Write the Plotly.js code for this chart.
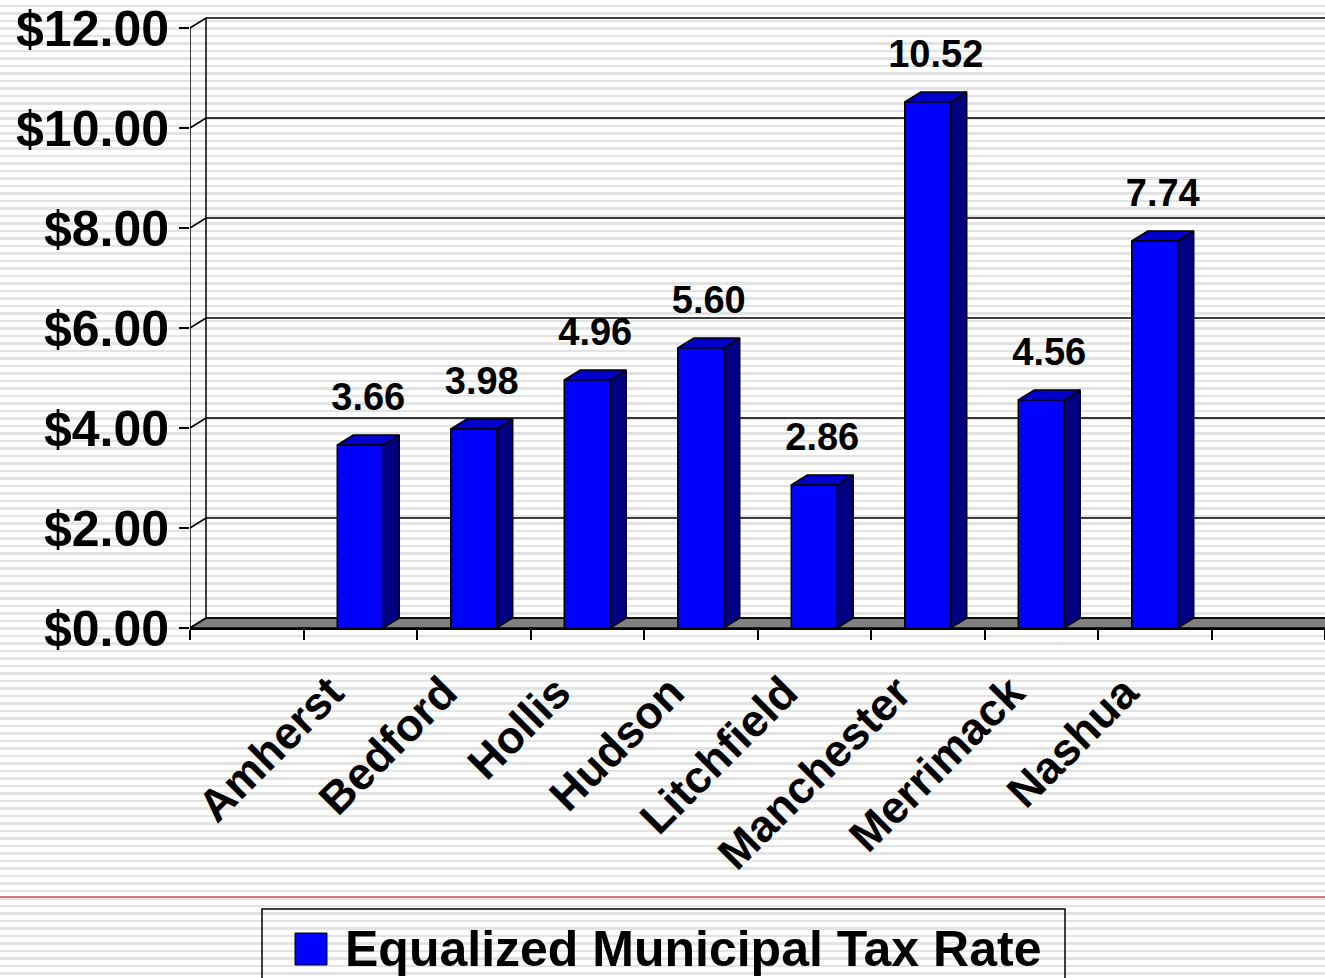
<!DOCTYPE html>
<html><head><meta charset="utf-8">
<script src="https://cdn.plot.ly/plotly-3.0.1.min.js"></script>
<style>
html,body{margin:0;padding:0;}
body{width:1325px;height:978px;overflow:hidden;background:repeating-linear-gradient(to bottom,#ffffff 0px,#ffffff 5px,#e3e3e3 5px,#e3e3e3 7.5px);}
#chart{width:1325px;height:978px;}
</style></head><body><div id="chart"></div>
<script>
const categories = ["Amherst","Bedford","Hollis","Hudson","Litchfield","Manchester","Merrimack","Nashua"];
const taxRates = [3.66, 3.98, 4.96, 5.60, 2.86, 10.52, 4.56, 7.74];
const valueLabels = ["3.66","3.98","4.96","5.60","2.86","10.52","4.56","7.74"];
const yTickValues = [0, 2, 4, 6, 8, 10, 12];
const yTickLabels = ["$0.00","$2.00","$4.00","$6.00","$8.00","$10.00","$12.00"];
const seriesName = "Equalized Municipal Tax Rate";

const FONT = "Liberation Sans, Arial, Helvetica, sans-serif";
const W = 1325, H = 978, ML = 190, MT = 10, MB = 350;
const plotW = W - ML, plotH = H - MT - MB;
const xRange = [-1.5, categories.length + 0.5];
const yMaxTick = yTickValues[yTickValues.length - 1];
const yRange = [0, 12.36];
const pxPerX = plotW / (xRange[1] - xRange[0]);
const pxPerY = plotH / (yRange[1] - yRange[0]);
const dx = 16 / pxPerX, dy = 10 / pxPerY;
const barW = 0.405;
const xFar = xRange[1] + 0.3;
const labelGap = 16 / pxPerY;

const floorTrace = {x:[xRange[0], xFar, xFar, xRange[0]+dx, xRange[0]], y:[0,0,dy,dy,0],
  type:'scatter', mode:'lines', fill:'toself', fillcolor:'#808080',
  line:{color:'#000', width:1.5}, hoverinfo:'skip', showlegend:false, xaxis:'x', yaxis:'y'};

const gx = [], gy = [];
yTickValues.forEach(t => {
  gx.push(xRange[0], xRange[0]+dx, xFar, null);
  gy.push(t, t+dy, t+dy, null);
});
gx.push(xRange[0], xRange[0], null, xRange[0]+dx, xRange[0]+dx, null);
gy.push(0, yMaxTick, null, dy, yMaxTick+dy, null);
const gridTrace = {x:gx, y:gy, type:'scatter', mode:'lines', line:{color:'#000', width:1.5},
  hoverinfo:'skip', showlegend:false, xaxis:'x', yaxis:'y'};

const sx = [], sy = [], tx = [], ty = [];
taxRates.forEach((v, i) => {
  const l = i - barW/2, r = i + barW/2;
  sx.push(r, r+dx, r+dx, r, r, null);
  sy.push(0, dy, v+dy, v, 0, null);
  tx.push(l, l+dx, r+dx, r, l, null);
  ty.push(v, v+dy, v+dy, v, v, null);
});
const sideTrace = {x:sx, y:sy, type:'scatter', mode:'lines', fill:'toself', fillcolor:'#000080',
  line:{color:'#000', width:1.5}, hoverinfo:'skip', showlegend:false, xaxis:'x', yaxis:'y'};
const topTrace = {x:tx, y:ty, type:'scatter', mode:'lines', fill:'toself', fillcolor:'#0000CD',
  line:{color:'#000', width:1.5}, hoverinfo:'skip', showlegend:false, xaxis:'x', yaxis:'y'};

const labelTrace = {x:taxRates.map((v,i)=>i+dx/2), y:taxRates.map(v=>v+dy+labelGap),
  text:valueLabels, type:'scatter', mode:'text', textposition:'top center',
  textfont:{family:FONT, size:38, color:'#000', weight:'bold'},
  hoverinfo:'skip', showlegend:false, cliponaxis:false, xaxis:'x', yaxis:'y'};

const barTrace = {x:categories, y:taxRates, type:'bar', name:seriesName, width:barW,
  marker:{color:'#0000FF', line:{color:'#000', width:1.5}}, showlegend:false,
  xaxis:'x2', yaxis:'y', hoverinfo:'skip'};

const boundaries = [];
for (let b = xRange[0]; b <= xRange[1] + 1e-9; b += 1) boundaries.push(b);

function px2x(px){ return (px - ML) / plotW; }
function py2y(py){ return (MT + plotH - py) / plotH; }

const layout = {
  width:W, height:H,
  margin:{l:ML, r:0, t:MT, b:MB, pad:0},
  paper_bgcolor:'rgba(0,0,0,0)', plot_bgcolor:'rgba(0,0,0,0)',
  font:{family:FONT, color:'#000'},
  showlegend:false,
  xaxis:{type:'linear', range:xRange, tickmode:'array', tickvals:boundaries,
    showticklabels:false, ticks:'outside', ticklen:10, tickwidth:2, tickcolor:'#000',
    showline:true, linecolor:'#000', linewidth:2, showgrid:false, zeroline:false, fixedrange:true},
  xaxis2:{type:'category', overlaying:'x', anchor:'y', side:'bottom', range:xRange,
    categoryorder:'array', categoryarray:categories, tickangle:-45, ticks:'',
    tickfont:{family:FONT, size:45, color:'#000', weight:'bold'},
    ticklabelstandoff:28, ticklabelshift:-30,
    showline:false, showgrid:false, zeroline:false, fixedrange:true},
  yaxis:{range:yRange, tickmode:'array', tickvals:yTickValues, ticktext:yTickLabels,
    ticks:'outside', ticklen:10, tickwidth:2, tickcolor:'#000',
    tickfont:{family:FONT, size:50, color:'#000', weight:'bold'},
    ticklabelstandoff:0,
    showline:false, showgrid:false, zeroline:false, fixedrange:true},
  shapes:[
    {type:'line', xref:'paper', yref:'paper', x0:px2x(0), x1:px2x(W), y0:py2y(897), y1:py2y(897),
      line:{color:'#d87878', width:2}},
    {type:'rect', xref:'paper', yref:'paper', x0:px2x(262), x1:px2x(1065), y0:py2y(995), y1:py2y(909),
      line:{color:'#000', width:1.5}, fillcolor:'rgba(0,0,0,0)'},
    {type:'rect', xref:'paper', yref:'paper', x0:px2x(295), x1:px2x(327), y0:py2y(965), y1:py2y(933),
      line:{color:'#000', width:1}, fillcolor:'#0000FF'}
  ],
  annotations:[
    {xref:'paper', yref:'paper', x:px2x(343), y:py2y(949), xanchor:'left', yanchor:'middle',
      text:seriesName, showarrow:false, font:{family:FONT, size:50, color:'#000', weight:'bold'}}
  ]
};

Plotly.newPlot('chart', [floorTrace, gridTrace, sideTrace, topTrace, labelTrace, barTrace], layout, {displayModeBar:false, staticPlot:true});
</script></body></html>
